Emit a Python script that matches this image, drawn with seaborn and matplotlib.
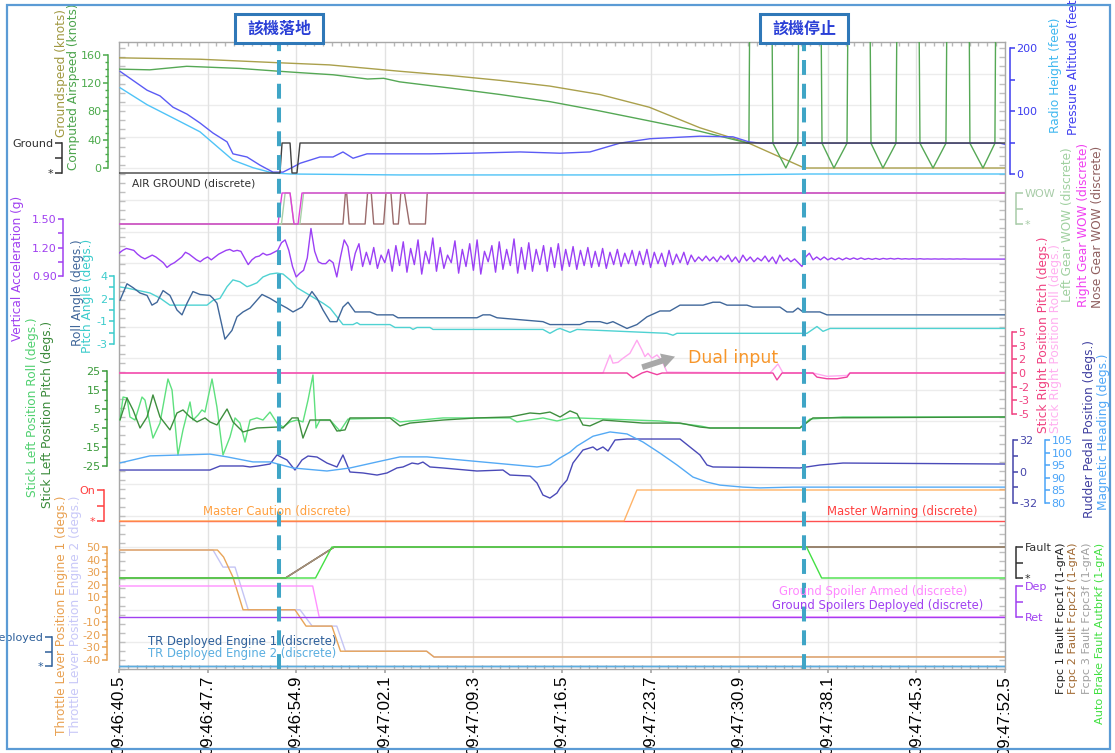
import numpy as np
import pandas as pd
import matplotlib
matplotlib.use("Agg")
import matplotlib.pyplot as plt
import matplotlib.patches as mpatches
from matplotlib.ticker import MultipleLocator
import seaborn as sns

# ---------------- data (time in seconds after 09:46:40.5) ----------------
x_tick_seconds = [0, 7.2, 14.4, 21.6, 28.8, 36.0, 43.2, 50.4, 57.6, 64.8, 72.0]
x_tick_labels = ["09:46:40.5", "09:46:47.7", "09:46:54.9", "09:47:02.1", "09:47:09.3",
                 "09:47:16.5", "09:47:23.7", "09:47:30.9", "09:47:38.1", "09:47:45.3",
                 "09:47:52.5"]
landing_t = 13.0
stop_t = 55.66
event_labels = ["該機落地", "該機停止"]

gs_t = [0, 6.6, 13.0, 17.1, 22.8, 26.9, 31.0, 35.0, 39.1, 43.1, 47.2, 51.2, 55.7, 72]
gs_v = [156, 154, 149, 146, 137, 131, 124, 116, 104, 86, 57, 35, 0, 0]

cas_t = [0, 2.5, 5.5, 9.8, 13.0, 14.7, 17.4, 20.2, 21.5, 22.8, 27, 31, 35, 39, 43, 47.2,
         51.19, 51.52, 52.74, 53.14, 54.19, 55.17, 55.50, 56.72, 57.13, 58.10, 59.16, 59.56,
         60.70, 61.11, 62.08, 63.14, 63.55, 64.68, 65.09, 66.15, 67.20, 67.61, 68.83, 69.15,
         70.21, 71.18, 71.51, 72]
cas_v = [140, 139, 144, 141, 137, 135, 132, 126, 127, 122, 113, 104, 94, 81, 67, 52,
         35, 999, 999, 35, 0, 35, 999, 999, 35, 0, 35, 999,
         999, 35, 0, 35, 999, 999, 35, 0, 35, 999, 999, 35,
         0, 35, 999, 999]

pa_t = [0.08, 2.28, 3.33, 4.39, 5.53, 6.58, 7.64, 8.78, 9.26, 10.40, 11.46, 12.51, 13.33,
        14.14, 14.71, 16.33, 17.39, 18.20, 19.02, 20.15, 22.83, 25.27, 28.52, 32.59, 35.84,
        38.27, 40.71, 43.15, 47.21, 49.89, 51.19, 52.09, 71.59, 72]
pa_v = [163, 133, 124, 106, 95, 81, 65, 51, 32, 27, 14, 3, 3, 11, 17, 27, 27, 35, 25, 32,
        32, 32, 33, 35, 33, 35, 49, 56, 60, 59, 51, 49, 49, 47]

rh_t = [0.08, 2.28, 4.39, 6.58, 9.26, 10.89, 12.51, 13.9, 22.8, 48, 56, 72]
rh_v = [137, 110, 89, 67, 22, 10, 1.6, 0, -1.5, -1.5, 0, 0]

airgnd_t = [0, 13.08, 13.25, 13.90, 14.06, 14.46, 14.71, 72]
airgnd_v = [0, 0, 1, 1, 0, 0, 1, 1]

rwow_t = [0, 12.92, 13.25, 13.90, 14.22, 14.55, 14.87, 72]
rwow_v = [0, 0, 1, 1, 0, 0, 1, 1]
lwow_t = [0, 13.2, 13.5, 13.9, 14.22, 14.7, 15.0, 72]
lwow_v = [0, 0, 1, 1, 0, 0, 1, 1]
nwow_t = [0, 18.2, 18.4, 18.5, 18.7, 20.0, 20.2, 20.5, 20.7, 21.5, 21.7, 22.1, 22.3,
          22.7, 22.9, 23.2, 23.6, 24.9, 25.05, 72]
nwow_v = [0, 0, 1, 1, 0, 0, 1, 1, 0, 0, 1, 1, 0, 0, 1, 1, 0, 0, 1, 1]

va_dt = 0.3
va_v = [1.14, 1.17, 1.19, 1.18, 1.17, 1.13, 1.10, 1.08, 1.10, 1.12,
        1.10, 1.07, 1.04, 0.99, 1.02, 1.04, 1.07, 1.10, 1.15, 1.13,
        1.10, 1.07, 1.05, 1.08, 1.10, 1.07, 1.10, 1.13, 1.15, 1.17,
        1.18, 1.16, 1.17, 1.16, 1.09, 1.02, 1.07, 1.10, 1.11, 1.14,
        1.12, 1.13, 1.15, 1.17, 1.25, 1.28, 1.17, 1.00, 0.89, 0.93,
        0.96, 1.09, 1.40, 1.16, 1.05, 1.03, 1.03, 1.07, 1.04, 0.89,
        1.10, 1.28, 1.21, 0.96, 1.14, 1.24, 1.00, 1.15, 1.02, 1.20,
        0.98, 1.12, 1.04, 1.18, 0.95, 1.22, 1.01, 1.26, 0.94, 1.19,
        1.02, 1.28, 0.92, 1.16, 1.03, 1.30, 0.95, 1.20, 0.98, 1.12,
        1.04, 1.27, 0.93, 1.18, 1.00, 1.24, 0.96, 1.28, 0.92, 1.16,
        1.05, 1.22, 0.94, 1.26, 0.97, 1.18, 1.01, 1.29, 0.93, 1.20,
        0.97, 1.25, 0.95, 1.18, 1.02, 1.22, 0.95, 1.20, 0.99, 1.24,
        0.96, 1.18, 1.00, 1.21, 0.97, 1.17, 1.01, 1.20, 0.99, 1.16,
        1.00, 1.19, 0.98, 1.15, 1.02, 1.18, 1.00, 1.14, 1.03, 1.17,
        1.01, 1.16, 1.02, 1.18, 0.99, 1.15, 1.03, 1.14, 1.00, 1.17,
        1.02, 1.13, 1.04, 1.15, 1.02, 1.12, 1.05, 1.10, 1.06, 1.11,
        1.06, 1.10, 1.05, 1.11, 1.07, 1.12, 1.05, 1.10, 1.04, 1.12,
        1.06, 1.10, 1.05, 1.09, 1.06, 1.11, 1.05, 1.10, 1.03, 1.12,
        1.06, 1.09, 1.05, 1.08, 1.04, 1.00, 1.10, 1.14, 1.07, 1.10,
        1.07, 1.10, 1.07, 1.09, 1.07, 1.09, 1.07, 1.09, 1.075, 1.09,
        1.075, 1.09, 1.075, 1.085, 1.075, 1.085, 1.075, 1.085, 1.078, 1.085,
        1.078, 1.085, 1.078, 1.082, 1.078, 1.082, 1.078, 1.082, 1.078, 1.08,
        1.078, 1.08, 1.078, 1.08, 1.078, 1.08, 1.078, 1.08, 1.078, 1.08,
        1.078, 1.078, 1.078, 1.078, 1.078, 1.078, 1.078, 1.078, 1.078, 1.078,
        1.078]

roll_t = [0.08, 0.65, 1.14, 1.71, 2.28, 2.68, 3.09, 3.58, 4.14, 4.71, 5.12, 5.53, 6.01,
          6.58, 7.39, 7.64, 7.96, 8.61, 9.18, 9.59, 10.08, 10.65, 11.62, 12.27, 12.92,
          13.65, 14.14, 14.87, 15.68, 16.09, 16.58, 17.15, 17.71, 18.20, 18.61, 19.18,
          20.40, 20.97, 22.27, 22.67, 29.09, 29.58, 30.15, 30.72, 34.45, 35.02, 37.46,
          38.03, 39.09, 39.66, 40.14, 41.28, 42.09, 42.91, 43.96, 44.77, 45.59, 47.46,
          48.27, 48.84, 49.41, 51.03, 51.52, 53.71, 54.28, 54.77, 55.17, 55.58, 56.96,
          57.53, 72]
roll_v = [1.5, 3.2, 2.8, 2.25, 2.0, 1.0, 1.3, 2.5, 2.0, 0.5, 0.0, 1.2, 2.4,
          2.1, 2.0, 1.7, 1.2, -2.5, -1.6, -0.2, 0.3, 0.7, 2.1, 1.7, 1.2,
          0.7, 0.3, 0.8, 2.4, 1.7, 0.5, -0.7, -0.7, 0.8, 1.3, 0.3,
          0.3, 0.0, 0.0, -0.3, -0.3, 0.0, 0.0, -0.3, -0.7, -1.0, -1.0,
          -0.7, -0.7, -0.9, -0.7, -1.4, -1.0, -0.2, 0.4, 0.4, 1.0, 1.0,
          1.3, 1.3, 1.0, 1.0, 0.8, 0.8, 0.3, 0.3, 0.7, 0.3, 0.3,
          0.0, 0.0]

pitch_t = [0.08, 0.65, 2.52, 3.33, 4.14, 7.15, 7.64, 8.21, 8.78, 9.26, 9.83, 10.40, 10.65,
           11.21, 11.70, 12.27, 12.84, 13.33, 13.90, 14.46, 15.52, 16.58, 17.15, 17.71,
           18.20, 19.02, 19.34, 19.58, 22.02, 22.43, 23.65, 23.89, 24.22, 25.27, 25.52,
           34.45, 35.02, 35.59, 35.84, 36.65, 37.22, 44.53, 45.02, 45.34, 55.33, 55.91,
           56.72, 57.21, 57.78, 72]
pitch_v = [2.87, 2.76, 2.25, 1.73, 1.0, 1.0, 1.5, 1.7, 2.9, 3.6, 3.4, 2.9, 3.0,
           3.3, 3.9, 4.2, 4.3, 4.2, 3.6, 2.8, 2.0, 1.2, 0.7, -0.2,
           -1.0, -1.0, -0.8, -1.0, -1.0, -1.3, -1.3, -1.5, -1.3, -1.3, -1.5,
           -1.5, -1.9, -1.5, -1.4, -1.8, -1.5, -1.9, -2.1, -1.9, -1.9, -1.9,
           -1.2, -1.7, -1.4, -1.4]

srp_t = [0, 41.28, 41.77, 42.50, 42.91, 43.31, 43.72, 44.13, 53.14, 53.47, 53.88,
         56.39, 56.72, 57.53, 58.35, 59.16, 59.40, 72]
srp_v = [0, 0, -0.6, 0, 0.2, 0, -0.2, 0, 0, -0.85, 0, 0, -0.5, -0.7, -0.7, -0.5, 0, 0]

srr_t = [0, 39.33, 39.90, 40.14, 40.55, 40.96, 41.52, 42.09, 42.50, 42.74, 42.99, 43.31,
         43.72, 44.13, 44.53, 52.9, 53.14, 53.55, 53.96, 56.39, 57.53, 59.16, 59.40, 72]
srr_v = [0, 0, 2.2, 1.2, 1.3, 1.8, 2.4, 4.0, 2.8, 2.0, 2.4, 1.8,
         2.2, 1.5, 0.1, 0, 0.4, 1.1, 0, 0, -0.4, -0.3, 0, 0]

slr_t = [0.08, 0.33, 0.65, 0.89, 1.30, 1.87, 2.11, 2.76, 3.33, 3.98, 4.31, 4.79, 5.20,
         5.77, 6.01, 6.42, 6.74, 6.99, 7.56, 7.96, 8.45, 9.02, 9.43, 9.83, 10.24, 10.65,
         11.21, 11.70, 12.27, 12.84, 13.33, 13.90, 14.46, 14.95, 15.36, 15.76, 16.01,
         16.33, 17.15, 17.96, 18.61, 22.27, 22.83, 26.33, 31.77, 32.34, 34.45, 35.59,
         36.65, 37.22, 43.96, 47.21, 48.03, 55.33, 56.15, 58.83, 72]
slr_v = [-0.8, 11.3, 10.8, 0.8, -0.8, 11.3, 9.7, -10.3, -2.4, 20.8, 15, -19.2, -6,
         8.7, -0.8, 1.8, 4.5, 3.4, 20.8, 6, -19.2, -9.7, 0.3, -2.4, -12.4, -0.8,
         0.3, -0.8, 3.4, -2.4, -4.5, -1.8, -0.8, -1.8, 9.7, 22.9, -5,
         -0.8, -0.8, -6.6, -0.3, 0.3, -1.8, 0.3, 0.3, -1.8, 0.3, -1.3,
         0.3, 0.3, -1.3, -3.9, -5, -5, -0.3, 0.8, 0.8]

slp_t = [0.08, 0.65, 1.14, 1.71, 2.28, 2.76, 3.33, 4.14, 4.71, 5.20, 5.77, 6.34, 6.99,
         7.39, 7.96, 8.78, 9.26, 10.08, 11.21, 12.84, 13.33, 14.06, 14.55, 14.95, 15.52,
         17.15, 17.71, 18.37, 18.77, 22.02, 22.83, 23.65, 26.33, 29.09, 31.77, 33.40,
         34.2, 35.02, 35.84, 36.65, 37.22, 37.70, 38.27, 39.33, 42.58, 45.59, 47.21,
         48.03, 55.33, 56.39, 72]
slp_v = [-0.8, 10.8, 4.5, -5, 0.8, 12.4, 0.8, -6, 2.9, 4.5, 0.8, -1.8, 0.3,
         -1.8, -3.4, 5, -1.8, -7.1, -5, -4.5, -5, 0.3, 0.3, -10.3, -0.8,
         -0.8, -6.6, -6.0, 0.3, 0.3, -3.9, -2.4, -0.8, 0.3, 0.8, 2.9,
         2.5, 3.4, 0.8, 4.0, 2.5, -3.4, -3.9, -0.8, -2.4, -2.4, -4.5,
         -5, -5, 0.3, 0.8]

rud_t = [0.08, 7.39, 8.21, 10.08, 10.65, 11.30, 12.27, 12.84, 13.65, 14.30, 14.87, 15.36,
         16.09, 16.90, 17.71, 18.20, 18.77, 19.83, 20.97, 21.78, 22.59, 23.08, 23.81,
         24.30, 24.70, 25.27, 26.33, 29.09, 31.20, 31.77, 33.40, 33.97, 34.45, 35.02,
         35.59, 35.84, 36.41, 36.89, 37.70, 38.52, 38.84, 39.33, 39.74, 40.31, 41.28,
         45.59, 46.40, 47.21, 47.78, 48.27, 55.33, 56.96, 58.83, 72]
rud_v = [1.5, 1.5, 5.6, 5.6, 4.6, 5.6, 7.6, 16.8, 11.7, 1.5, 11.7, 15.7,
         14.7, 8.6, 4.6, 16.8, -0.5, -1.5, -3.6, -1.5, 3.6, 4.6, 8.6,
         7.6, 9.6, 4.6, 3.6, 0.5, 1.5, -3.6, -4.6, -11.7, -23.9, -27,
         -21.9, -16.8, -8.6, 8.6, 21.8, 24.9, 21.8, 24.9, 20.8, 32, 33,
         33, 24.9, 16.8, 6.6, 4.6, 3.6, 6.6, 8.6, 7.6]

hdg_t = [0.08, 2.52, 4.71, 7.39, 8.78, 10.89, 12.27, 14.14, 16.90, 18.77, 20.97, 22.83,
         25.03, 27.71, 30.39, 33.97, 35.02, 35.84, 36.65, 37.22, 38.52, 39.90, 41.28,
         42.58, 43.96, 45.34, 46.64, 47.78, 48.84, 50.71, 52.09, 54.77, 72]
hdg_v = [95.9, 98.7, 99.0, 99.4, 98.3, 96.3, 96.3, 93.9, 92.7, 93.9, 96.3, 98.3,
         98.3, 97.1, 95.9, 94.3, 95.1, 97.9, 100.2, 102.6, 106.5, 108.2, 107.4,
         104.2, 99.8, 95.1, 90.3, 88.3, 87.1, 86.3, 86.0, 86.3, 86.3]

mcau_t = [0, 41.04, 42.09, 72]
mcau_v = [0, 0, 1, 1]
mwarn_t = [0, 72]
mwarn_v = [0, 0]

thr1_t = [0, 8.0, 8.5, 9.26, 10.08, 13.9, 14.3, 15.2, 17.3, 18.0, 25.0, 25.6, 72]
thr1_v = [47.6, 47.6, 42, 26, 0, 0, 0, -13, -13, -33, -33, -37.6, -37.6]
thr2_t = [0, 7.64, 8.45, 9.43, 10.5, 14.71, 15.7, 17.7, 18.4, 25.0, 25.6, 72]
thr2_v = [47.6, 47.6, 34, 34, 0, 0, -13, -13, -33, -33, -37.6, -37.6]

fcpc_t = [0, 13.53, 17.5, 72]
fcpc_v = [0, 0, 1, 1]
abrk_t = [0, 15.97, 17.3, 55.87, 57.1, 72]
abrk_v = [0, 0, 1, 1, 0, 0]
sparm_t = [0, 15.74, 16.27, 72]
sparm_v = [1, 1, 0, 0]
spdep_t = [0, 72]
spdep_v = [0, 0]
tr_t = [0, 72]
tr1_v = [0, 0]
tr2_v = [0, 0]

# ---------------- figure ----------------
sns.set_theme(style="white")
plt.rcParams['font.family'] = ['DejaVu Sans', 'Noto Sans CJK TC']

W, H = 1115, 753
fig = plt.figure(figsize=(W / 100, H / 100), dpi=100)
L, R, T, B = 119, 1005, 42, 669
pos = [L / W, 1 - B / H, (R - L) / W, (B - T) / H]

ax = fig.add_axes(pos)
ax.set_facecolor('white')
ax.set_ylim(0, B - T)
ax.set_xticks(x_tick_seconds)
ax.set_xticklabels(x_tick_labels, rotation=90, fontsize=12.2, family='Liberation Sans', color='black')
ax.xaxis.set_minor_locator(MultipleLocator(0.72))
ax.set_yticks([])
ax.yaxis.set_minor_locator(MultipleLocator(9))
ax.grid(axis='x', color='#e2e2e2', lw=1)
for r in [74, 105, 137, 168, 200, 232, 263, 295, 327, 358, 390, 421, 453, 484, 516, 547, 579, 610, 642]:
    ax.axhline(B - r, color='#ececec', lw=1, zorder=0)
for s in ax.spines.values():
    s.set_color('#a8a8a8'); s.set_linewidth(1)
ax.tick_params(axis='x', which='major', bottom=True, length=3, color='#a8a8a8', pad=2)
ax.tick_params(axis='x', which='minor', bottom=True, top=True, direction='in', length=3, color='#b8b8b8')
ax.tick_params(axis='y', which='minor', left=True, right=True, direction='in', length=4, color='#c0c0c0')


def overlay(va_, pa_, vb_, pb_):
    a = fig.add_axes(pos, sharex=ax)
    a.patch.set_alpha(0)
    for s in a.spines.values():
        s.set_visible(False)
    a.tick_params(axis='x', which='both', bottom=False, top=False, labelbottom=False)
    k = (vb_ - va_) / (pb_ - pa_)
    a.set_ylim(va_ + (B - pa_) * k, va_ + (T - pa_) * k)
    a.set_yticks([])
    return a


def spine(a, side, off_px, lo, hi, ticks, labels, color, minor=None, tl=5, fs=8):
    sp = a.spines[side]
    sp.set_visible(True); sp.set_color(color); sp.set_linewidth(1.1)
    sp.set_position(('outward', off_px * 0.72))
    sp.set_bounds(lo, hi)
    if side == 'right':
        a.yaxis.tick_right()
    else:
        a.yaxis.tick_left()
    a.set_yticks(ticks)
    a.set_yticklabels(labels)
    if minor is not None:
        a.set_yticks(minor, minor=True)
    a.tick_params(axis='y', which='major', colors=color, labelsize=fs, length=tl * 0.72,
                  width=1.1, pad=1, direction='out')
    a.tick_params(axis='y', which='minor', colors=color, length=3 * 0.72, width=1.0, direction='out')


def line(a, t, v, color, lw=1.0, alpha=1.0):
    sns.lineplot(x=t, y=v, ax=a, color=color, linewidth=lw, estimator=None, sort=False,
                 legend=False, alpha=alpha)


def ftext(xp, yp, s, **kw):
    fig.text(xp / W, 1 - yp / H, s, **kw)


# --- speeds ---
a_spd = overlay(0, 168, 160, 55)
spine(a_spd, 'left', 11, 0, 160, [0, 40, 80, 120, 160], ['0', '40', '80', '120', '160'], '#4caa4c',
      minor=list(range(10, 160, 10)))
line(a_spd, gs_t, gs_v, '#aaa04c')
line(a_spd, cas_t, cas_v, '#55a855')

a_alt = overlay(0, 174, 200, 48)
spine(a_alt, 'right', 5, 0, 200, [0, 50, 100, 150, 200], ['0', '', '100', '', '200'], '#3c3cf0')
line(a_alt, rh_t, rh_v, '#4fc3f7')
line(a_alt, pa_t, pa_v, '#5b5bf5')

a_ag = overlay(0, 173, 1, 143)
spine(a_ag, 'left', 57, 0, 1, [0, 0.5, 1], ['*', '', 'Ground'], '#303030', tl=7)
line(a_ag, airgnd_t, airgnd_v, '#404040')

# --- WOW ---
a_wow = overlay(0, 224, 1, 193)
spine(a_wow, 'right', 11, 0, 1, [0, 0.5, 1], ['*', '', 'WOW'], '#a8cca8', tl=7)
line(a_wow, nwow_t, nwow_v, '#9a6a6a')
line(a_wow, lwow_t, lwow_v, '#a8d0a8')
line(a_wow, rwow_t, rwow_v, '#e040d8')

# --- vertical acceleration ---
a_va = overlay(0.9, 276, 1.5, 219)
spine(a_va, 'left', 56, 0.9, 1.5, [0.9, 1.05, 1.2, 1.35, 1.5], ['0.90', '', '1.20', '', '1.50'], '#a040f0')
va_t = np.arange(len(va_v)) * va_dt
line(a_va, va_t, va_v, '#9b40f5')

# --- roll / pitch ---
a_rp = overlay(4, 276, -3, 344)
rp_ticks = [-3, -1.833, -0.667, 0.5, 1.667, 2.833, 4]
spine(a_rp, 'left', 5, -3, 4, rp_ticks, ['-3', '', '-1', '', '2', '', '4'], '#3ccccc')
line(a_rp, pitch_t, pitch_v, '#4fd2d2')
line(a_rp, roll_t, roll_v, '#40679a')

# --- stick right ---
a_sr = overlay(5, 332, -5, 414)
sr_ticks = [-5, -3.333, -1.667, 0, 1.667, 3.333, 5]
spine(a_sr, 'right', 7, -5, 5, sr_ticks, ['-5', '-3', '-2', '0', '2', '3', '5'], '#f04080')
line(a_sr, srr_t, srr_v, '#ffa8f0')
line(a_sr, srp_t, srp_v, '#f040a0')
a_sr.annotate('', xy=(45.4, 2.1), xytext=(42.3, 0.6),
              arrowprops=dict(arrowstyle='simple,head_width=0.9,head_length=0.8,tail_width=0.35',
                              color='#a8a8a8', lw=0))
a_sr.text(46.2, 1.85, 'Dual input', color='#f7962a', fontsize=12.5, va='center', ha='left')

# --- stick left ---
a_sl = overlay(25, 371, -25, 466)
spine(a_sl, 'left', 12, -25, 25, [-25, -15, -5, 5, 15, 25], ['-25', '-15', '-5', '5', '15', '25'],
      '#3a9a3a', minor=[-20, -10, 0, 10, 20])
line(a_sl, slr_t, slr_v, '#5ee07e')
line(a_sl, slp_t, slp_v, '#3e8e3e')

# --- rudder / heading ---
a_rud = overlay(32, 440, -32, 503)
spine(a_rud, 'right', 8, -32, 32, [-32, -16, 0, 16, 32], ['-32', '', '0', '', '32'], '#4444aa')
a_hdg = overlay(105, 440, 80, 503)
spine(a_hdg, 'right', 40, 80, 105, [80, 85, 90, 95, 100, 105], ['80', '85', '90', '95', '100', '105'], '#4aa4f8')
line(a_hdg, hdg_t, hdg_v, '#55aaf5')
line(a_rud, rud_t, rud_v, '#4a4ab8')

# --- master caution / warning ---
a_mc = overlay(0, 521, 1, 490)
spine(a_mc, 'left', 15, 0, 1, [0, 0.5, 1], ['*', '', 'On'], '#ff4040', tl=7)
line(a_mc, mwarn_t, mwarn_v, '#ff5050')
line(a_mc, mcau_t, mcau_v, '#ffa64d', alpha=0.85)

# --- throttle ---
a_thr = overlay(50, 547, -40, 660)
spine(a_thr, 'left', 12, -40, 50, list(range(-40, 51, 10)), [str(v) for v in range(-40, 51, 10)],
      '#e8a050', minor=list(range(-35, 50, 10)))
line(a_thr, thr2_t, thr2_v, '#c4c4f4')
line(a_thr, thr1_t, thr1_v, '#e8a458')

# --- fcpc / autobrake ---
a_fc = overlay(0, 578, 1, 547)
spine(a_fc, 'right', 11, 0, 1, [0, 0.5, 1], ['*', '', 'Fault'], '#303030', tl=7)
line(a_fc, fcpc_t, fcpc_v, '#303030')
line(a_fc, fcpc_t, fcpc_v, '#a0703a')
line(a_fc, fcpc_t, fcpc_v, '#a8a8a8', alpha=0.6)
line(a_fc, abrk_t, abrk_v, '#44e044')

# --- spoilers ---
a_sp = overlay(0, 617, 1, 586)
spine(a_sp, 'right', 11, 0, 1, [0, 0.5, 1], ['Ret', '', 'Dep'], '#a040f0', tl=7)
line(a_sp, sparm_t, sparm_v, '#ff90ff')
line(a_sp, spdep_t, spdep_v, '#a040f0')

# --- thrust reversers ---
a_tr = overlay(0, 666, 1, 637)
spine(a_tr, 'left', 67, 0, 1, [0, 0.5, 1], ['*', '', 'Deployed'], '#2d5f9a', tl=7)
line(a_tr, tr_t, tr1_v, '#2d5f9a')
line(a_tr, tr_t, tr2_v, '#5aaee0')

# --- event lines ---
a_top = overlay(0, B, 1, T)
for tv in (landing_t, stop_t):
    a_top.axvline(tv, color='#3fa5c6', lw=2.9, dashes=(3.7, 2.2))

ax.set_xlim(0, 72)

# --- axis titles ---
lab = dict(rotation=90, fontsize=8.7)
ftext(62, 9, 'Groundspeed (knots)', color='#a09840', ha='center', va='top', **lab)
ftext(74, 3, 'Computed Airspeed (knots)', color='#4ca44c', ha='center', va='top', **lab)
ftext(18, 268, 'Vertical Acceleration (g)', color='#a040f0', ha='center', va='center', **lab)
ftext(77, 239, 'Roll Angle (degs.)', color='#40679a', ha='center', va='top', **lab)
ftext(88, 239, 'Pitch Angle (degs.)', color='#3ccccc', ha='center', va='top', **lab)
ftext(33, 407, 'Stick Left Position Roll (degs.)', color='#50d070', ha='center', va='center', **lab)
ftext(48, 414, 'Stick Left Position Pitch (degs.)', color='#3a8a3a', ha='center', va='center', **lab)
ftext(62, 735, 'Throttle Lever Position Engine 1 (degs.)', color='#e8a050', ha='center', va='bottom', **lab)
ftext(76, 735, 'Throttle Lever Position Engine 2 (degs.)', color='#c8c8f8', ha='center', va='bottom', **lab)

ftext(1055, 133, 'Radio Height (feet)', color='#40b8f0', ha='center', va='bottom', **lab)
ftext(1073, 135, 'Pressure Altitude (feet)', color='#4040f0', ha='center', va='bottom', **lab)
ftext(1068, 302, 'Left Gear WOW (discrete)', color='#a0d0a0', ha='center', va='bottom', **lab)
ftext(1083, 307, 'Right Gear WOW (discrete)', color='#f040f0', ha='center', va='bottom', **lab)
ftext(1097, 308, 'Nose Gear WOW (discrete)', color='#906060', ha='center', va='bottom', **lab)
ftext(1043, 433, 'Stick Right Position Pitch (degs.)', color='#f04080', ha='center', va='bottom', **lab)
ftext(1055, 433, 'Stick Right Position Roll (degs.)', color='#ffb0f0', ha='center', va='bottom', **lab)
ftext(1090, 518, 'Rudder Pedal Position (degs.)', color='#4040a0', ha='center', va='bottom', **lab)
ftext(1103, 510, 'Magnetic Heading (degs.)', color='#50a8f8', ha='center', va='bottom', **lab)
lab2 = dict(rotation=90, fontsize=8.1)
ftext(1061, 543, 'Fcpc 1 Fault Fcpc1f (1-grA)', color='#202020', ha='center', va='top', **lab2)
ftext(1073, 543, 'Fcpc 2 Fault Fcpc2f (1-grA)', color='#a06830', ha='center', va='top', **lab2)
ftext(1087, 543, 'Fcpc 3 Fault Fcpc3f (1-grA)', color='#a0a0a0', ha='center', va='top', **lab2)
ftext(1100, 543, 'Auto Brake Fault Autbrkf (1-grA)', color='#40e040', ha='center', va='top', **lab2)

# --- inline trace labels ---
ftext(132, 183, 'AIR GROUND (discrete)', color='#303030', ha='left', va='center', fontsize=7.7)
tl_kw = dict(fontsize=8.4, va='center')
ftext(203, 512, 'Master Caution (discrete)', color='#ffa040', ha='left', **tl_kw)
ftext(827, 512, 'Master Warning (discrete)', color='#ff4040', ha='left', **tl_kw)
ftext(148, 641, 'TR Deployed Engine 1 (discrete)', color='#2d5f9a', ha='left', **tl_kw)
ftext(148, 654, 'TR Deployed Engine 2 (discrete)', color='#5aaee0', ha='left', **tl_kw)
ftext(967, 592, 'Ground Spoiler Armed (discrete)', color='#ff88ff', ha='right', **tl_kw)
ftext(983, 605, 'Ground Spoilers Deployed (discrete)', color='#a040f0', ha='right', **tl_kw)

# --- event boxes ---
for (bx, cx), s in zip([(235, 279), (760, 804.5)], event_labels):
    rect = mpatches.Rectangle((bx / W, 1 - 43 / H), 88 / W, 29 / H, transform=fig.transFigure,
                              facecolor='white', edgecolor='#2f78b8', lw=2.2, zorder=10)
    fig.add_artist(rect)
    fig.text(cx / W, 1 - 29 / H, s, ha='center', va='center', fontsize=11.5, fontweight='bold',
             color='#2a3fd6', family=['Noto Sans CJK TC'], zorder=11)

# --- outer frame ---
frame = mpatches.Rectangle((7 / W, 1 - 749 / H), 1103 / W, 744 / H, transform=fig.transFigure,
                           fill=False, edgecolor='#5b9bd5', lw=1.6, zorder=12)
fig.add_artist(frame)

fig.savefig('out.png', dpi=100)
